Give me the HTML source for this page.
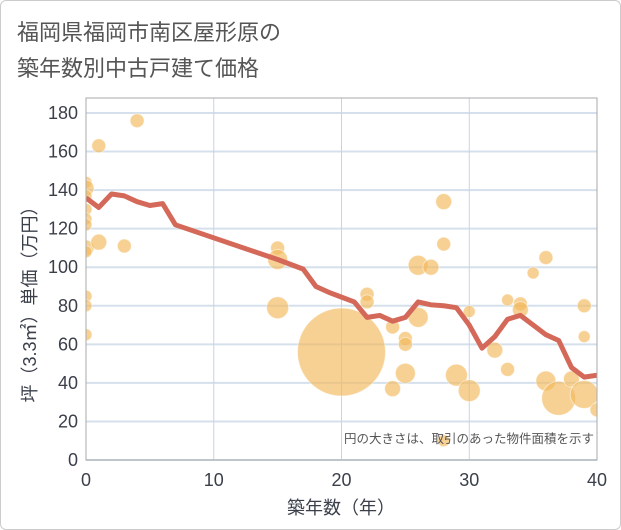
<!DOCTYPE html><html><head><meta charset="utf-8"><style>
body{margin:0;background:#fff;font-family:"Liberation Sans","Noto Sans CJK JP",sans-serif}
#wrap{width:619px;height:528px;border:1px solid #ccc;position:relative;border-radius:6px}
</style></head><body>
<div id="wrap">
<svg id="c" width="621" height="530" style="position:absolute;left:-1px;top:-1px"></svg>
</div>
<script>
const lineAges=[0,1,2,3,4,5,6,7,15,17,18,19,20,21,22,23,24,25,26,27,28,29,30,31,32,33,34,35,36,37,38,39,40];
const lineVals=[136,131,138,137,134,132,133,122,104,99,90,87,84.5,82,74,75,72,74,82,80.5,80,79,70,58,64,73,75,70,65,62,48,43,44];
const bubAges=[0,0,0,0,0,0,0,0,0,0,0,1,1,3,4,15,15,15,20,22,22,24,24,25,25,25,26,26,27,28,28,28,29,30,30,32,33,33,34,34,35,36,36,37,38,39,39,39,40];
const bubVals=[144,141,137,130,125,122,110,108,85,80,65,163,113,111,176,110,104,79,56,86,82,69,37,63,60,45,101,74,100,134,112,10,44,36,77,57,83,47,81,78,97,105,41,32,42,80,64,34,26];
const bubSizes=[6,8,6,6,6,6,8,6,6,6,6,7,8,7,7,7,10,11,44,7,7,7,8,7,7,10,10,10,8,8,7,6,11,11,6,8,6,7,7,8,6,7,10,17,8,7,6,14,7];
const xTicks=[0,10,20,30,40];const yTicks=[0,20,40,60,80,100,120,140,160,180];
const X0=86,X1=597,Y0=460,Y1=113;
const sx=v=>X0+(X1-X0)*v/40, sy=v=>Y0-(Y0-Y1)*v/180;
const s=document.getElementById('c'),NS='http://www.w3.org/2000/svg';
function el(t,a,p){const e=document.createElementNS(NS,t);for(const k in a)e.setAttribute(k,a[k]);(p||s).appendChild(e);return e;}
const defs=el('defs',{});const cp=el('clipPath',{id:'pc'},defs);el('rect',{x:X0,y:Y1-15,width:X1-X0,height:Y0-Y1+15},cp);
let t=el('text',{x:17,y:40,'font-size':22,fill:'#555'});t.textContent='福岡県福岡市南区屋形原の';

t=el('text',{x:17,y:76,'font-size':22,fill:'#555'});t.textContent='築年数別中古戸建て価格';

const g=el('g',{});
yTicks.forEach(v=>{el('line',{x1:X0,x2:X1,y1:sy(v),y2:sy(v),stroke:'#d5e0ec','stroke-width':2},g);
const tx=el('text',{x:X0-8,y:sy(v)+6,'font-size':18,fill:'#3a3f4a','text-anchor':'end'});tx.textContent=v;
});
xTicks.forEach(v=>{el('line',{x1:sx(v),x2:sx(v),y1:Y1-15,y2:Y0,stroke:'#c8d4e2','stroke-width':1},g);
const tx=el('text',{x:sx(v),y:Y0+26,'font-size':18,fill:'#3a3f4a','text-anchor':'middle'});tx.textContent=v;
});
const bg=el('g',{'clip-path':'url(#pc)'});
bubAges.forEach((a,i)=>{const c=el('circle',{cx:sx(a),cy:sy(bubVals[i]),r:bubSizes[i],fill:'#f2b85a','fill-opacity':0.65,stroke:'#fff','stroke-opacity':0.5},bg);
});
const lg=el('g',{'clip-path':'url(#pc)'});
const p=el('polyline',{points:lineAges.map((a,i)=>sx(a)+','+sy(lineVals[i])).join(' '),fill:'none',stroke:'#d4695a','stroke-width':5,'stroke-linejoin':'round'},lg);

const fr=el('rect',{x:X0,y:Y1-15,width:X1-X0,height:Y0-Y1+15,fill:'none',stroke:'#aaa'});

t=el('text',{x:594,y:443,'font-size':12.5,fill:'#555','text-anchor':'end'});t.textContent='円の大きさは、取引のあった物件面積を示す';

t=el('text',{x:341,y:514,'font-size':18,fill:'#3a3f4a','text-anchor':'middle'});t.textContent='築年数（年）';

t=el('text',{x:0,y:0,'font-size':18,fill:'#3a3f4a','text-anchor':'middle',transform:'translate(36,300) rotate(-90)'});t.textContent='坪（3.3㎡）単価（万円）';

</script></body></html>
